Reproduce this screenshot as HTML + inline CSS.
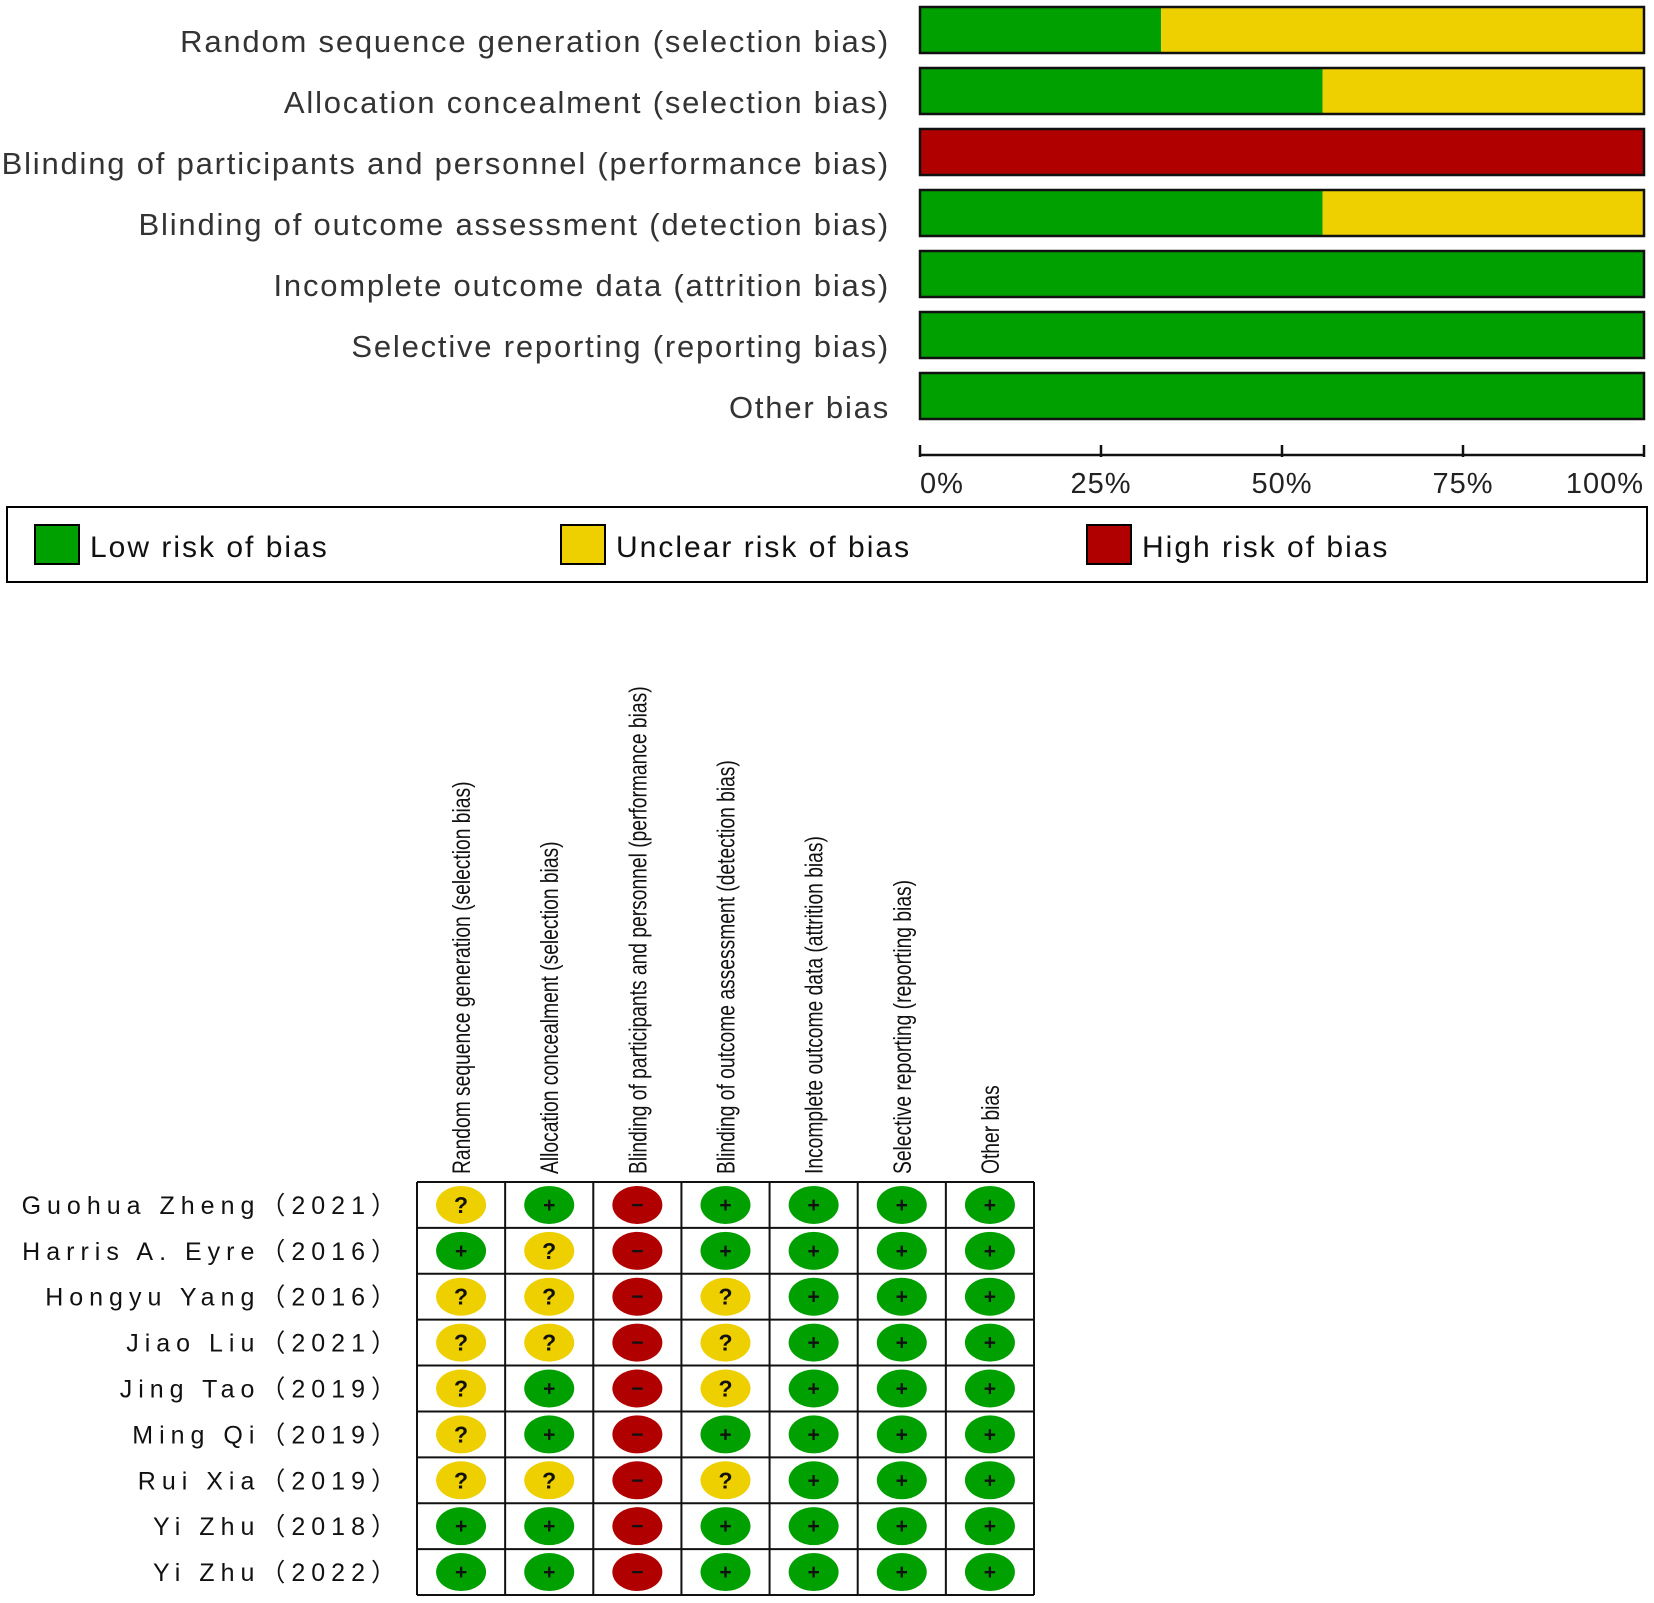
<!DOCTYPE html>
<html><head><meta charset="utf-8"><style>
html,body{margin:0;padding:0;background:#fff;}
svg{display:block;font-family:"Liberation Sans","Noto Sans CJK SC",sans-serif;}
</style></head><body>
<svg id="chart" width="1654" height="1603" viewBox="0 0 1654 1603" xmlns="http://www.w3.org/2000/svg">
<g id="topbars"></g>
<g id="axis"></g>
<g id="legend">
<rect x="7" y="507" width="1640" height="75" fill="#fff" stroke="#000" stroke-width="2"/>
<rect x="35" y="525" width="44" height="39" fill="#00A000" stroke="#000" stroke-width="2"/>
<text x="90" y="557" font-size="30" fill="#111" letter-spacing="2">Low risk of bias</text>
<rect x="561" y="525" width="44" height="39" fill="#EECF00" stroke="#000" stroke-width="2"/>
<text x="616" y="557" font-size="30" fill="#111" letter-spacing="2">Unclear risk of bias</text>
<rect x="1087" y="525" width="44" height="39" fill="#B00000" stroke="#000" stroke-width="2"/>
<text x="1142" y="557" font-size="30" fill="#111" letter-spacing="2">High risk of bias</text>
</g>
<g id="grid"></g>
</svg>
<script>
const domains = ["Random sequence generation (selection bias)","Allocation concealment (selection bias)","Blinding of participants and personnel (performance bias)","Blinding of outcome assessment (detection bias)","Incomplete outcome data (attrition bias)","Selective reporting (reporting bias)","Other bias"];
const lowPct = [33.3,55.6,0,55.6,100,100,100];
const unclearPct = [66.7,44.4,0,44.4,0,0,0];
const highPct = [0,0,100,0,0,0,0];
const tickValues = [0,25,50,75,100];
const tickLabels = ["0%","25%","50%","75%","100%"];
const studies = ["Guohua Zheng（2021）","Harris A. Eyre（2016）","Hongyu Yang（2016）","Jiao Liu（2021）","Jing Tao（2019）","Ming Qi（2019）","Rui Xia（2019）","Yi Zhu（2018）","Yi Zhu（2022）"];
const judgements = [
 "?+-++++",
 "+?-++++",
 "??-?+++",
 "??-?+++",
 "?+-?+++",
 "?+-++++",
 "??-?+++",
 "++-++++",
 "++-++++"
];
(function(){
const NS="http://www.w3.org/2000/svg";
function mk(tag,attrs,parent,txt){const e=document.createElementNS(NS,tag);for(const k in attrs)e.setAttribute(k,attrs[k]);if(txt!==undefined)e.textContent=txt;parent.appendChild(e);return e;}
const X0=920,X1=1644;
const xs=v=>X0+(X1-X0)*v/100;
const topG=document.getElementById('topbars');
const colors={low:"#00A000",unclear:"#EECF00",high:"#B00000"};
domains.forEach((d,i)=>{
  const y=7+i*61, h=46;
  const t=mk('text',{x:890,y:y+h/2+22,'font-size':31,fill:'#333','text-anchor':'end','letter-spacing':1.8},topG,d);
  
  
  let acc=0;
  [['low',lowPct[i]],['unclear',unclearPct[i]],['high',highPct[i]]].forEach(([k,v])=>{
    if(v<=0)return;
    const r=mk('rect',{x:xs(acc),y:y,width:xs(acc+v)-xs(acc),height:h,fill:colors[k]},topG);
    
    
    acc+=v;
  });
  const b=mk('rect',{x:X0,y:y,width:X1-X0,height:h,fill:'none',stroke:'#111','stroke-width':2.5},topG);
  
  
});
const ax=document.getElementById('axis');
const al=mk('line',{x1:X0,y1:455,x2:X1,y2:455,stroke:'#111','stroke-width':2.5},ax);


tickValues.forEach((v,i)=>{
  const tk=mk('line',{x1:xs(v),y1:445,x2:xs(v),y2:457,stroke:'#111','stroke-width':2.5},ax);
  
  
  const anc=i===0?'start':(i===tickValues.length-1?'end':'middle');
  const tl=mk('text',{x:xs(v),y:493,'font-size':29,fill:'#222','text-anchor':anc,'letter-spacing':1},ax,tickLabels[i]);
  
  
});
const g=document.getElementById('grid');
const GX=417,GY=1182,CW=(1034-417)/7,RH=(1595-1182)/9;
domains.forEach((d,j)=>{
  const cx=GX+CW*(j+0.5);
  const gg=mk('g',{transform:`translate(${cx+9},1174) rotate(-90) scale(0.77,1)`},g);
  const t=mk('text',{x:0,y:0,'font-size':25,fill:'#111'},gg,d);
  
  
});
studies.forEach((s,i)=>{
  const cy=GY+RH*(i+0.5);
  const t=mk('text',{x:402,y:cy+9,'font-size':25,fill:'#111','text-anchor':'end','letter-spacing':6},g,s);
  
  
  for(let j=0;j<domains.length;j++){
    const cx=GX+CW*(j+0.5);
    const c=judgements[i][j];
    const col=c==='+'?colors.low:(c==='?'?colors.unclear:colors.high);
    const e=mk('ellipse',{cx:cx,cy:cy,rx:25,ry:19,fill:col},g);
    
    
    const sym=c==='-'?'−':c;
    const st=mk('text',{x:cx,y:cy+(c==='?'?8:7),'font-size':c==='?'?23:21,'font-weight':'bold',fill:'#111','text-anchor':'middle'},g,sym);
    
    
  }
});
for(let j=0;j<=7;j++){
  const l=mk('line',{x1:GX+CW*j,y1:GY,x2:GX+CW*j,y2:1595,stroke:'#111','stroke-width':2},g);
  
  
}
for(let i=0;i<=9;i++){
  const l=mk('line',{x1:GX,y1:GY+RH*i,x2:1034,y2:GY+RH*i,stroke:'#111','stroke-width':2},g);
  
  
}
})();
</script>
</body></html>
